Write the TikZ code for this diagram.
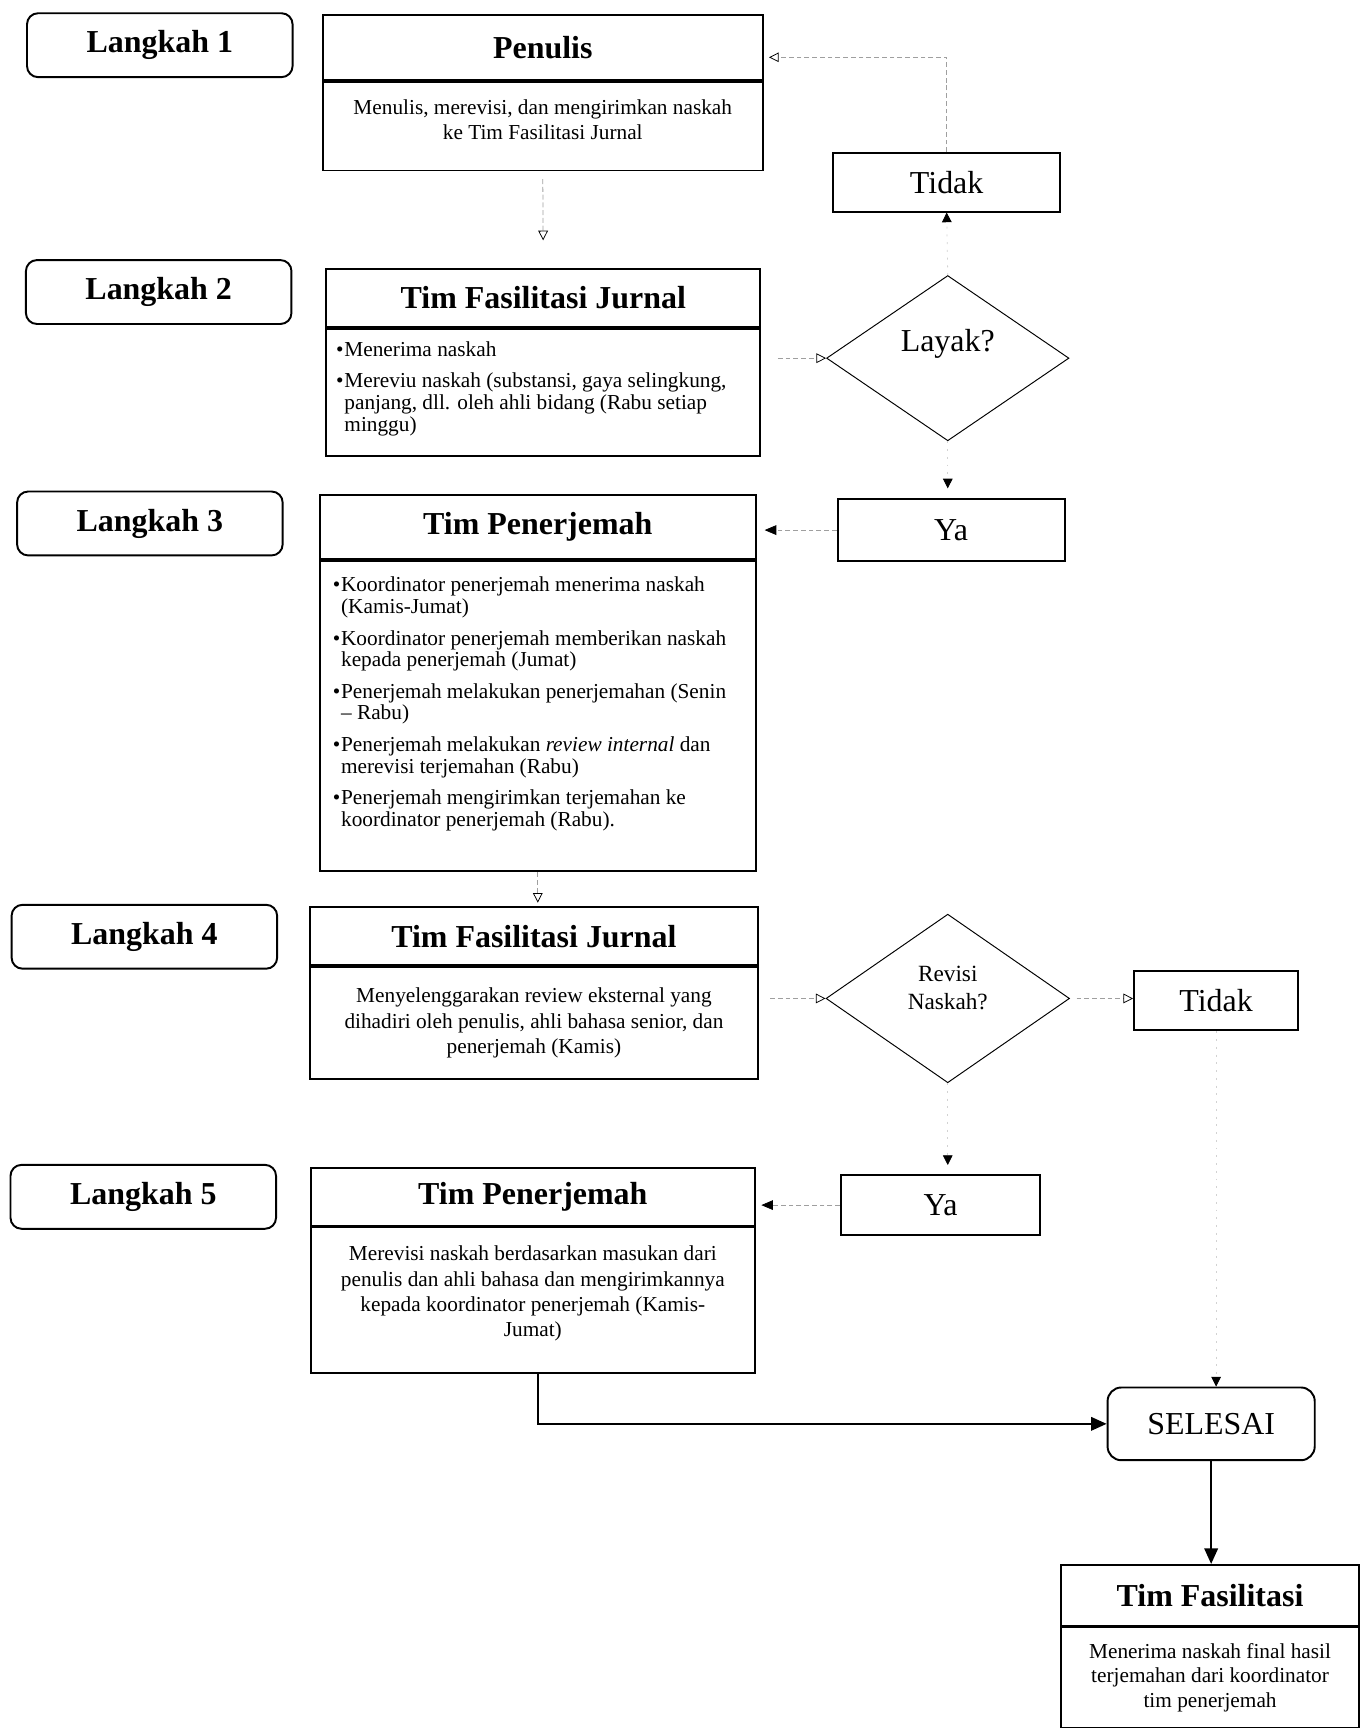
\documentclass[tikz,border=0pt]{standalone}
\usepackage{fontspec}
\setmainfont{Liberation Serif}
\usetikzlibrary{positioning,shapes.geometric,arrows.meta}

\newcommand{\butir}{\par\addvspace{4.8pt}\hangindent=0.15cm\hangafter=1\noindent\makebox[0.15cm][l]{\textbullet}}

\begin{document}
\begin{tikzpicture}[x=0.02cm, y=-0.02cm,
  langkah/.style={draw, line width=1pt, rounded corners=0.2cm, minimum width=4.82cm, minimum height=1.16cm,
    font=\bfseries\fontsize{16.5}{19}\selectfont},
  judul/.style={draw, line width=1pt, font=\bfseries\fontsize{16.5}{19}\selectfont},
  isi/.style={draw, line width=1pt, below=0pt of #1, font=\fontsize{11}{13}\selectfont},
  jawab/.style={draw, line width=1pt, font=\fontsize{16.5}{19}\selectfont},
  tanya/.style={draw, diamond, line width=0.5pt, inner sep=0pt},
  garis/.style={gray!75, dash pattern=on 2.5pt off 1.5pt, -{Triangle[open, color=black, length=5pt, width=5pt]}},
  garisisi/.style={gray!75, dash pattern=on 2.5pt off 1.5pt, -{Triangle[color=black, length=6pt, width=5pt]}},
  samar/.style={gray!35, dash pattern=on 1pt off 3pt, -{Triangle[color=black, length=5pt, width=5pt]}},
  tegas/.style={line width=0.9pt, -{Triangle[length=8pt, width=7pt]}}
]
  \useasboundingbox (0,0) rectangle (1242,1568);

  % langkah
  \foreach \n/\x/\y in {1/145/41, 2/144/265, 3/136/475, 4/131/850, 5/130/1086}
    \node[langkah] (langkah\n) at (\x,\y) {Langkah \n};

  % langkah 1
  \node[judul, minimum width=7.98cm, minimum height=1.18cm] (penulis) at (492.5,43.5) {Penulis};
  \node[isi=penulis, minimum width=7.98cm, minimum height=1.6cm, inner ysep=0.32cm] (penulisisi)
    {\begin{minipage}[t][0.96cm][t]{7.6cm}\centering
      Menulis, merevisi, dan mengirimkan naskah\\ke Tim Fasilitasi Jurnal
    \end{minipage}};

  % langkah 2
  \node[judul, minimum width=7.88cm, minimum height=1.06cm] (fasil1) at (493,270.5) {Tim Fasilitasi Jurnal};
  \node[isi=fasil1, minimum width=7.88cm, minimum height=2.3cm, inner xsep=0.18cm, inner ysep=0.22cm,
    font=\fontsize{11}{11.3}\selectfont] (fasil1isi)
    {\begin{minipage}[t][1.86cm][t]{7.52cm}\raggedright
      \butir Menerima naskah
      \butir Mereviu naskah (substansi, gaya selingkung,\newline panjang, dll. oleh ahli bidang (Rabu setiap\newline minggu)
    \end{minipage}};

  \node[tanya, minimum width=4.4cm, minimum height=3cm,
    label={[yshift=0.26cm, font=\fontsize{16.5}{19}\selectfont]center:Layak?}] (layak) at (860,325) {};
  \node[jawab, minimum width=4.12cm, minimum height=1.06cm] (tidak1) at (859,165.5) {Tidak};
  \node[jawab, minimum width=4.12cm, minimum height=1.12cm] (ya1) at (863,481) {Ya};

  % langkah 3
  \node[judul, minimum width=7.92cm, minimum height=1.16cm] (terjemah1) at (488,478) {Tim Penerjemah};
  \node[isi=terjemah1, minimum width=7.92cm, minimum height=5.64cm, inner xsep=0.24cm, inner ysep=0.3cm,
    font=\fontsize{11}{11.3}\selectfont] (terjemah1isi)
    {\begin{minipage}[t][5.04cm][t]{7.44cm}\raggedright
      \butir Koordinator penerjemah menerima naskah\newline (Kamis-Jumat)
      \butir Koordinator penerjemah memberikan naskah\newline kepada penerjemah (Jumat)
      \butir Penerjemah melakukan penerjemahan (Senin\newline – Rabu)
      \butir Penerjemah melakukan \textit{review internal} dan\newline merevisi terjemahan (Rabu)
      \butir Penerjemah mengirimkan terjemahan ke\newline koordinator penerjemah (Rabu).
    \end{minipage}};

  % langkah 4
  \node[judul, minimum width=8.14cm, minimum height=1.06cm] (fasil2) at (484.5,849.5) {Tim Fasilitasi Jurnal};
  \node[isi=fasil2, minimum width=8.14cm, minimum height=2.02cm, align=center] (fasil2isi)
    {Menyelenggarakan review eksternal yang\\dihadiri oleh penulis, ahli bahasa senior, dan\\penerjemah (Kamis)};

  \node[tanya, minimum width=4.42cm, minimum height=3.06cm,
    label={[yshift=0.19cm, align=center, font=\fontsize{12}{14}\selectfont]center:Revisi\\Naskah?}] (revisi) at (860,906) {};
  \node[jawab, minimum width=2.98cm, minimum height=1.08cm] (tidak2) at (1103.5,908) {Tidak};
  \node[jawab, minimum width=3.62cm, minimum height=1.1cm] (ya2) at (853.5,1093.5) {Ya};

  % langkah 5
  \node[judul, minimum width=8.06cm, minimum height=1.04cm] (terjemah2) at (483.5,1086) {Tim Penerjemah};
  \node[isi=terjemah2, minimum width=8.06cm, minimum height=2.64cm, inner xsep=0.2cm, inner ysep=0.34cm] (terjemah2isi)
    {\begin{minipage}[t][1.96cm][t]{7.66cm}\centering
      Merevisi naskah berdasarkan masukan dari\\penulis dan ahli bahasa dan mengirimkannya\\kepada koordinator penerjemah (Kamis-\\Jumat)
    \end{minipage}};

  % selesai
  \node[jawab, rounded corners=0.25cm, minimum width=3.76cm, minimum height=1.32cm] (selesai) at (1099,1292) {SELESAI};
  \node[judul, minimum width=5.4cm, minimum height=1.1cm] (fasil3) at (1098,1447.5) {Tim Fasilitasi};
  \node[isi=fasil3, minimum width=5.4cm, minimum height=1.82cm, align=center, font=\fontsize{11}{12.8}\selectfont] (fasil3isi)
    {Menerima naskah final hasil\\terjemahan dari koordinator\\tim penerjemah};

  % alur
  \draw[garis, shorten <=0.14cm, shorten >=0.5cm] (penulisisi.south) -- (fasil1.north);
  \draw[garis, shorten <=0.3cm] (fasil1isi.east |- layak.west) -- (layak.west);
  \draw[samar] (layak.north) -- (tidak1.south);
  \draw[garis, shorten >=0.1cm] (tidak1.north) |- ([yshift=-0.17cm]penulis.east);
  \draw[samar, shorten >=0.18cm] (layak.south) -- (layak.south |- ya1.north);
  \draw[garisisi, shorten >=0.14cm] (ya1.west) -- (ya1.west -| terjemah1.east);
  \draw[garis, shorten >=0.06cm] (terjemah1isi.south) -- (terjemah1isi.south |- fasil2.north);
  \draw[garis, shorten <=0.2cm] (fasil2isi.east |- revisi.west) -- (revisi.west);
  \draw[garis, shorten <=0.12cm] (revisi.east) -- (revisi.east -| tidak2.west);
  \draw[samar, shorten >=0.16cm] (revisi.south) -- (revisi.south |- ya2.north);
  \draw[garisisi, shorten >=0.1cm] (ya2.west) -- (ya2.west -| terjemah2.east);
  \draw[tegas] ([xshift=0.1cm]terjemah2isi.south) |- (selesai.west);
  \draw[samar] (tidak2.south) -- (tidak2.south |- selesai.north);
  \draw[tegas] (selesai.south) -- (selesai.south |- fasil3.north);
\end{tikzpicture}
\end{document}
